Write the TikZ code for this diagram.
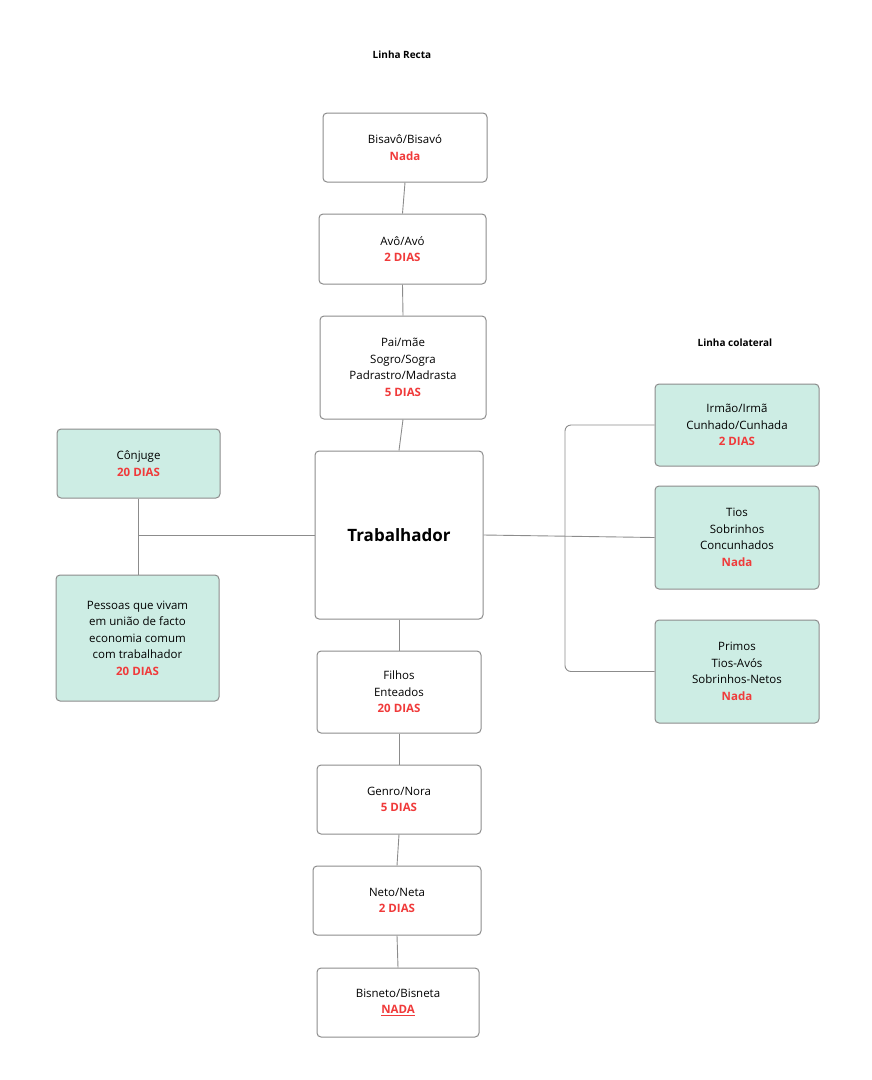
\documentclass[tikz,border=0pt]{standalone}
\usepackage{fontspec}
\setmainfont{Open Sans}
\definecolor{tl}{HTML}{CDEDE4}
\definecolor{rd}{HTML}{F03A3A}
\definecolor{bd}{HTML}{8C8C8C}
\begin{document}
\begin{tikzpicture}[x=1pt,y=-1pt,
 box/.style={draw=bd,line width=1pt,rounded corners=4pt,fill=white,align=center,font=\fontsize{11.5}{16.5}\selectfont},
 tbox/.style={box,fill=tl},
 ln/.style={draw=bd,line width=0.9pt},
 ttl/.style={font=\fontsize{10}{12}\selectfont\bfseries}]
\useasboundingbox (0,0) rectangle (872,1080);
\newcommand{\bx}[6]{\node[#1,minimum width=#4-#2,minimum height=#5-#3] (#6) at ({(#2+#4)/2},{(#3+#5)/2})}
\def\r#1{\textcolor{rd}{\bfseries #1}}
\bx{box}{323}{113}{487}{182}{bis}{Bisavô/Bisavó\\\r{Nada}};
\bx{box}{319}{214}{486}{284}{avo}{Avô/Avó\\\r{2 DIAS}};
\bx{box}{320}{316}{486}{419}{pai}{Pai/mãe\\Sogro/Sogra\\Padrastro/Madrasta\\\r{5 DIAS}};
\bx{box}{315}{451}{483}{619}{tr}{\fontsize{17}{20}\selectfont\bfseries Trabalhador};
\bx{box}{317}{651}{481}{733}{fil}{Filhos\\Enteados\\\r{20 DIAS}};
\bx{box}{317}{765}{481}{834}{gen}{Genro/Nora\\\r{5 DIAS}};
\bx{box}{313}{866}{481}{935}{net}{Neto/Neta\\\r{2 DIAS}};
\bx{box}{317}{968}{479}{1037}{bn}{Bisneto/Bisneta\\\r{\underline{NADA}}};
\bx{tbox}{57}{429}{220}{498}{con}{Cônjuge\\\r{20 DIAS}};
\bx{tbox}{56}{575}{219}{701}{pes}{Pessoas que vivam\\em união de facto\\economia comum\\com trabalhador\\\r{20 DIAS}};
\bx{tbox}{655}{384}{819}{466}{irm}{Irmão/Irmã\\Cunhado/Cunhada\\\r{2 DIAS}};
\bx{tbox}{655}{486}{819}{589}{tio}{Tios\\Sobrinhos\\Concunhados\\\r{Nada}};
\bx{tbox}{655}{620}{819}{723}{pri}{Primos\\Tios-Avós\\Sobrinhos-Netos\\\r{Nada}};
\node[ttl] (t1) at (402,55) {Linha Recta};
\node[ttl] (t2) at (735,343) {Linha colateral};
\draw[ln] (bis.south) -- (avo.north);
\draw[ln] (avo.south) -- (pai.north);
\draw[ln] (pai.south) -- (tr.north);
\draw[ln] (tr.south) -- (fil.north);
\draw[ln] (fil.south) -- (gen.north);
\draw[ln] (gen.south) -- (net.north);
\draw[ln] (net.south) -- (bn.north);
\coordinate (lj) at (138,535);
\draw[ln] (tr.west) -- (lj);
\draw[ln] (con.south -| lj) -- (pes.north -| lj);
\draw[ln] (tr.east) -- (tio.west);
\coordinate (rx) at (565,535);
\draw[ln,rounded corners=6pt] (irm.west) -- (irm.west -| rx) -- (pri.west -| rx) -- (pri.west);
\end{tikzpicture}
\end{document}
